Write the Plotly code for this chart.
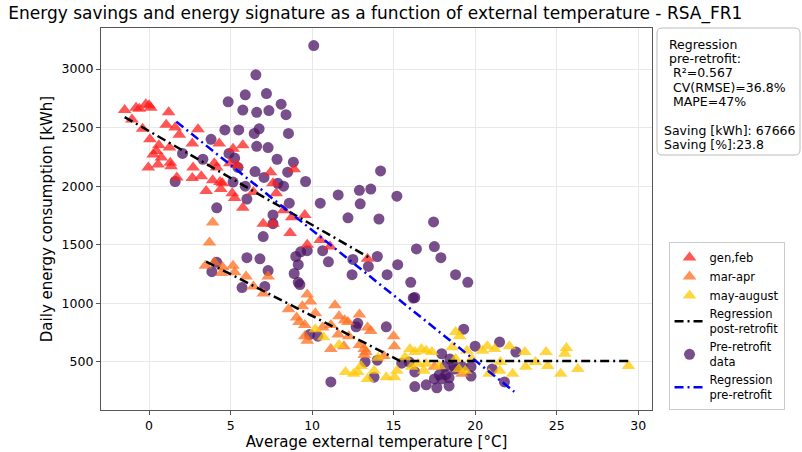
import plotly.graph_objects as go

# ---------------- data ----------------
gen_feb_x = [-1.5, -0.8, -0.6, -0.2, 0.0, 0.1, 1.2, -1.05, -0.4, 1.05, 1.6, 1.85, 3.0, 0.05, 0.6,
             1.25, 0.45, 0.25, 0.75, -0.05, 0.55, 1.3, 1.35, 1.7, 2.65, 2.7, 2.65, 3.2, 4.3, 4.0,
             4.15, 5.15, 5.75, 3.9, 4.35, 4.5, 3.5, 4.4, 5.1, 5.25, 5.75, 4.95, 5.4, 6.4, 7.45,
             7.6, 7.8, 8.9, 8.25, 8.75, 9.55, 7.0, 7.6, 8.65, 9.7, 10.5, 11.1, 13.4]
gen_feb_y = [2650, 2670, 2660, 2700, 2690, 2670, 2630, 2570, 2490, 2525, 2500, 2440, 2485, 2400, 2350,
             2330, 2300, 2270, 2245, 2160, 2185, 2200, 2170, 2075, 2365, 2160, 2070, 2085, 2365, 2195,
             2160, 2320, 2350, 2050, 2035, 2025, 1960, 1975, 1940, 1900, 1815, 2195, 2180, 1950, 2120,
             2025, 1940, 2145, 1795, 1735, 1755, 1680, 1680, 1600, 1500, 1540, 1485, 1380]

mar_apr_x = [3.9, 3.7, 3.45, 4.0, 4.45, 4.5, 5.15, 5.25, 5.95, 6.4, 7.0, 7.3, 8.55, 9.05, 9.2,
             9.4, 9.55, 9.7, 9.9, 10.2, 9.55, 9.7, 10.65, 11.15, 11.4, 11.65, 11.6, 11.15, 12.0, 12.2,
             11.95, 12.9, 13.4, 12.9, 13.2, 13.3, 13.2, 12.25, 15.0, 15.05, 17.5, 19.2, 14.4, 13.6]
mar_apr_y = [1690, 1520, 1320, 1350, 1260, 1310, 1320, 1265, 1230, 1145, 1085, 1230, 950, 880, 840,
             975, 815, 1075, 1015, 915, 720, 680, 795, 815, 985, 890, 735, 610, 855, 840,
             635, 905, 795, 645, 610, 585, 560, 720, 720, 635, 460, 400, 550, 765]

may_aug_x = [10.2, 10.7, 11.65, 12.05, 12.55, 12.8, 13.0, 13.4, 13.8, 14.05, 14.55, 15.05, 15.2, 15.7,
             16.0, 16.1, 16.3, 16.5, 16.7, 16.85, 17.0, 17.35, 17.0, 17.8, 18.6, 18.8, 19.05, 19.0,
             19.5, 19.4, 19.8, 20.45, 20.75, 20.85, 21.2, 21.55, 21.5, 22.1, 22.3, 23.05, 23.1, 23.7,
             24.35, 24.45, 25.6, 25.5, 25.25, 26.3, 29.4, 18.8]
may_aug_y = [780, 710, 645, 415, 400, 415, 465, 355, 425, 535, 370, 370, 425, 540,
             610, 460, 585, 485, 610, 425, 595, 585, 485, 465, 625, 525, 720, 440,
             595, 425, 525, 595, 635, 400, 610, 500, 425, 635, 400, 585, 460, 500,
             585, 465, 620, 570, 400, 440, 465, 755]

pre_x = [10.1, 6.55, 4.85, 5.9, 7.2, 5.75, 6.6, 7.35, 8.1, 8.4, 4.65, 5.5, 6.75, 6.45, 8.55, 3.8,
         6.6, 7.3, 2.05, 3.3, 4.9, 5.25, 7.85, 8.85, 5.45, 6.5, 8.5, 7.05, 1.6, 5.15, 9.6, 5.9,
         7.9, 8.25, 6.0, 8.6, 10.5, 4.15, 11.6, 12.9, 13.6, 14.2, 12.95, 12.2, 14.1, 7.6, 7.6,
         15.2, 17.45, 16.4, 17.5, 17.9, 14.0, 15.25, 14.6, 18.8, 19.55, 16.05, 16.3, 16.2, 7.0,
         9.3, 9.7, 9.0, 10.65, 9.15, 11.0, 12.5, 12.45, 13.45, 6.0, 6.8, 7.3, 4.15, 3.85, 5.7,
         7.1, 8.9, 9.15, 9.25, 9.85, 10.35, 12.8, 12.7, 13.25, 14.0, 13.8, 11.15, 14.55, 19.3,
         21.5, 20.0, 22.5, 15.5, 15.95, 17.95, 18.45, 18.15, 18.7, 18.75, 19.2, 19.75, 21.05,
         21.8, 16.3, 17.5, 17.95, 18.4, 17.65, 18.4, 17.0, 16.3, 19.75, 18.2, 17.8]
pre_y = [3200, 2950, 2720, 2780, 2790, 2650, 2630, 2645, 2700, 2610, 2480, 2480, 2490, 2450, 2450, 2400,
         2340, 2330, 2280, 2230, 2280, 2240, 2230, 2205, 2160, 2125, 2120, 2075, 2040, 2035, 2040, 2000,
         2025, 2000, 1890, 1855, 1855, 1815, 1925, 1965, 1975, 2130, 1850, 1730, 1720, 1755, 1680,
         1915, 1695, 1465, 1485, 1390, 1400, 1330, 1245, 1245, 1180, 1180, 1050, 1045, 1570,
         1440, 1450, 1400, 1450, 1330, 1355, 1375, 1245, 1315, 1390, 1380, 1280, 1350, 1270, 1135,
         1145, 1255, 1180, 1160, 735, 720, 830, 800, 500, 515, 370, 330, 800, 780,
         670, 635, 585, 490, 500, 570, 525, 460, 465, 440, 460, 460, 440,
         330, 415, 355, 355, 365, 280, 295, 305, 290, 380, 390, 390]

# regression lines (model outputs)
post_reg_x = [-1.5, 13.5, None, 3.5, 15.4, 29.4]
post_reg_y = [2590, 1390, None, 1356, 508, 508]
pre_reg_x = [1.67, 22.4]
pre_reg_y = [2551, 246]

x_ticks = [0, 5, 10, 15, 20, 25, 30]
y_ticks = [500, 1000, 1500, 2000, 2500, 3000]

stats_lines = ["Regression", "pre-retrofit:", "R²=0.567", "CV(RMSE)=36.8%", "MAPE=47%", "",
               "Saving [kWh]: 67666", "Saving [%]:23.8"]
stats_indent = [1, 1, 2, 2, 2, 0, 0, 0]

FONT = "DejaVu Sans"

fig = go.Figure()
fig.add_trace(go.Scatter(x=pre_x, y=pre_y, mode="markers", name="Pre-retrofit<br>data",
                         marker=dict(symbol="circle", size=11, color="rgba(75,20,100,0.75)",
                                     line=dict(width=0)), legendrank=5))
fig.add_trace(go.Scatter(x=gen_feb_x, y=gen_feb_y, mode="markers", name="gen,feb",
                         marker=dict(symbol="triangle-up", size=12, color="rgba(255,30,30,0.75)",
                                     line=dict(width=0)), legendrank=1))
fig.add_trace(go.Scatter(x=mar_apr_x, y=mar_apr_y, mode="markers", name="mar-apr",
                         marker=dict(symbol="triangle-up", size=12, color="rgba(255,110,30,0.75)",
                                     line=dict(width=0)), legendrank=2))
fig.add_trace(go.Scatter(x=may_aug_x, y=may_aug_y, mode="markers", name="may-august",
                         marker=dict(symbol="triangle-up", size=12, color="rgba(255,200,0,0.75)",
                                     line=dict(width=0)), legendrank=3))
fig.add_trace(go.Scatter(x=post_reg_x, y=post_reg_y, mode="lines", name="Regression<br>post-retrofit",
                         line=dict(color="black", width=2.5, dash="9px,4px,2px,4px"), legendrank=4))
fig.add_trace(go.Scatter(x=pre_reg_x, y=pre_reg_y, mode="lines", name="Regression<br>pre-retrofit",
                         line=dict(color="blue", width=2.5, dash="9px,4px,2px,4px"), legendrank=6))

W, H = 802, 452
ML, MR, MT, MB = 101, 150, 28, 42
PW, PH = W - ML - MR, H - MT - MB

fig.update_layout(
    width=W, height=H,
    margin=dict(l=ML, r=MR, t=MT, b=MB, autoexpand=False),
    paper_bgcolor="white", plot_bgcolor="white",
    font=dict(family=FONT, size=12, color="black"),
    title=dict(text="Energy savings and energy signature as a function of external temperature - RSA_FR1",
               x=0.468, xanchor="center", y=0.984, yanchor="top",
               font=dict(family=FONT, size=17, color="black")),
    legend=dict(x=1.03, y=0.44, xanchor="left", yanchor="top",
                bgcolor="white", bordercolor="#cccccc", borderwidth=1,
                font=dict(family=FONT, size=11.5), tracegroupgap=0, itemwidth=30),
    xaxis=dict(range=[-2.95, 30.85], tickvals=x_ticks, showgrid=True, gridcolor="#e8e8e8",
               zeroline=False, showline=True, linecolor="#555555", linewidth=1.3, mirror=True,
               ticks="outside", ticklen=4, tickcolor="#555555", automargin=False,
               tickfont=dict(size=12.5),
               title=dict(text="Average external temperature [°C]", font=dict(size=15), standoff=4)),
    yaxis=dict(range=[90, 3350], tickvals=y_ticks, showgrid=True, gridcolor="#e8e8e8",
               zeroline=False, showline=True, linecolor="#555555", linewidth=1.3, mirror=True,
               ticks="outside", ticklen=4, tickcolor="#555555", automargin=False,
               tickfont=dict(size=12.5),
               title=dict(text="Daily energy consumption [kWh]", font=dict(size=15), standoff=5)),
)

# rounded statistics box (paper coordinates)
bx0, bx1 = (657 - ML) / PW, (800 - ML) / PW
by0, by1 = (H - MB - 155) / PH, (H - MB - 28) / PH
rx, ry = 5 / PW, 5 / PH
path = (f"M {bx0+rx},{by1} L {bx1-rx},{by1} Q {bx1},{by1} {bx1},{by1-ry} "
        f"L {bx1},{by0+ry} Q {bx1},{by0} {bx1-rx},{by0} L {bx0+rx},{by0} "
        f"Q {bx0},{by0} {bx0},{by0+ry} L {bx0},{by1-ry} Q {bx0},{by1} {bx0+rx},{by1} Z")
fig.add_shape(type="path", path=path, xref="paper", yref="paper",
              line=dict(color="#bbbbbb", width=1), fillcolor="white", layer="above")

line_px0 = 44
for i, (txt, ind) in enumerate(zip(stats_lines, stats_indent)):
    if not txt:
        continue
    px = 662 + ind * 4.5
    py = line_px0 + i * 14.4
    fig.add_annotation(xref="paper", yref="paper", x=(px - ML) / PW, y=(H - MB - py) / PH,
                       xanchor="left", yanchor="middle", text=txt, showarrow=False,
                       font=dict(family=FONT, size=12.5, color="black"))

fig.write_html("out.html", config={"displayModeBar": False},
               post_script="document.body.style.margin='0';document.body.style.overflow='hidden';")
